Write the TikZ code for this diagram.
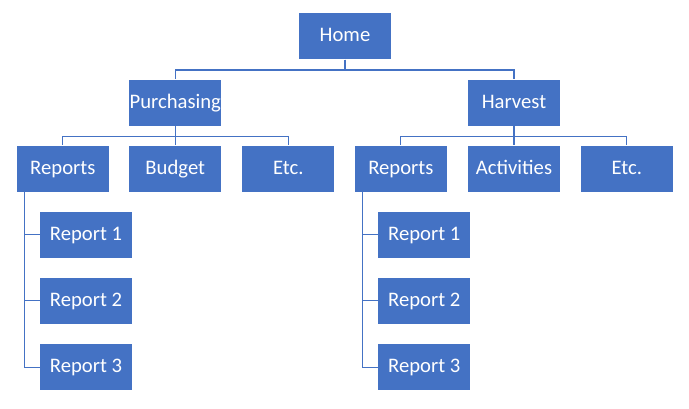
\documentclass[tikz,border=0pt]{standalone}
\usepackage{fontspec}
\setmainfont{Carlito}
\usetikzlibrary{calc}

\definecolor{officeblue}{RGB}{68,114,196}
\tikzset{every picture/.style={line width=0.75pt}}
\tikzset{
  sitebox/.style={fill=officeblue, text=white, inner sep=0pt, minimum width=69pt, minimum height=34.3pt, text height=12pt, text depth=4.2pt, font=\fontsize{15.5}{18}\selectfont},
  treeline/.style={draw=officeblue, line width=1pt}
}

\begin{document}
\begin{tikzpicture}[x=0.75pt,y=0.75pt,yscale=-1,xscale=1]
\useasboundingbox (0,0) rectangle (689,408);

% Top level
\node [sitebox] (home) at (345,36.3) {Home};

% Second level
\node [sitebox] (purch) at (175.3,102.8) {Purchasing};
\node [sitebox] (harv) at (514,102.8) {Harvest};

% Third level
\node [sitebox] (repL) at (62.8,168.8) {Reports};
\node [sitebox] (budget) at (175.3,168.8) {Budget};
\node [sitebox] (etcL) at (288.3,168.8) {Etc.};
\node [sitebox] (repR) at (400.8,168.8) {Reports};
\node [sitebox] (activ) at (514,168.8) {Activities};
\node [sitebox] (etcR) at (626.8,168.8) {Etc.};

% Reports
\node [sitebox] (rL1) at (86,234.8) {Report 1};
\node [sitebox] (rL2) at (86,300.8) {Report 2};
\node [sitebox] (rL3) at (86,367.3) {Report 3};
\node [sitebox] (rR1) at (424.3,234.8) {Report 1};
\node [sitebox] (rR2) at (424.3,300.8) {Report 2};
\node [sitebox] (rR3) at (424.3,367.3) {Report 3};

% Home connectors
\draw [treeline] (home.south) -- ++(0,10.3) -| (purch.north);
\draw [treeline] (home.south) -- ++(0,10.3) -| (harv.north);

% Purchasing connectors
\draw [treeline] (purch.south) -- ++(0,10.3) -| (repL.north);
\draw [treeline] (purch.south) -- (budget.north);
\draw [treeline] (purch.south) -- ++(0,10.3) -| (etcL.north);

% Harvest connectors
\draw [treeline] (harv.south) -- ++(0,10.3) -| (repR.north);
\draw [treeline] (harv.south) -- (activ.north);
\draw [treeline] (harv.south) -- ++(0,10.3) -| (etcR.north);

% Report lists
\coordinate (trunkL) at ($(repL.south west)+(8.3,0)$);
\draw [treeline] (trunkL) |- (rL3.west);
\draw [treeline] (trunkL |- rL1) -- (rL1.west);
\draw [treeline] (trunkL |- rL2) -- (rL2.west);

\coordinate (trunkR) at ($(repR.south west)+(8.3,0)$);
\draw [treeline] (trunkR) |- (rR3.west);
\draw [treeline] (trunkR |- rR1) -- (rR1.west);
\draw [treeline] (trunkR |- rR2) -- (rR2.west);

\end{tikzpicture}
\end{document}
